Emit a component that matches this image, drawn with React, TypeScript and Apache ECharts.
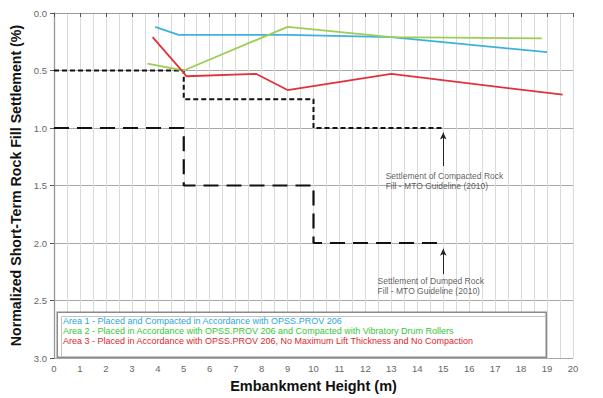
import React, { useEffect, useRef } from "react";
import * as echarts from "echarts";

// Measured settlement data [embankment height (m), settlement (%)]
const area1: [number, number][] = [[3.9, 0.12], [4.8, 0.19], [9.0, 0.19], [13.0, 0.21], [19.0, 0.34]];
const area2: [number, number][] = [[3.6, 0.44], [5.0, 0.5], [9.0, 0.12], [13.0, 0.21], [18.8, 0.22]];
const area3: [number, number][] = [[3.8, 0.21], [5.0, 0.52], [5.1, 0.55], [7.8, 0.53], [9.0, 0.67], [13.0, 0.53], [19.6, 0.71]];

// MTO Guideline (2010) step curves
const compactedGuide: [number, number][] = [[0, 0.5], [5, 0.5], [5, 0.75], [10, 0.75], [10, 1.0], [15, 1.0]];
const dumpedGuide: [number, number][] = [[0, 1.0], [5, 1.0], [5, 1.5], [10, 1.5], [10, 2.0], [15, 2.0]];

// Annotation arrows [from, to]
const compactedArrow: [number, number][] = [[15, 1.33], [15, 1.04]];
const dumpedArrow: [number, number][] = [[15, 2.27], [15, 2.05]];

// Annotation texts anchored at [x, y]
const annotations: [number, number, string][] = [
  [12.78, 1.37, "Settlement of Compacted Rock\nFill - MTO Guideline (2010)"],
  [12.47, 2.29, "Settlement of Dumped Rock\nFill - MTO Guideline (2010)"],
];

const legendNames = [
  "Area 1 - Placed and Compacted in Accordance with OPSS.PROV 206",
  "Area 2 - Placed in Accordance with OPSS.PROV 206 and Compacted with Vibratory Drum Rollers",
  "Area 3 - Placed in Accordance with OPSS.PROV 206, No Maximum Lift Thickness and No Compaction",
];
const lineColors = ["#3cb2da", "#9cce55", "#e0323a"];
const legendColors = ["#2aa6d6", "#35c835", "#e0262e"];

const xTicks = { min: 0, max: 20, interval: 1 };
const yTicks = { min: 0, max: 3, interval: 0.5 };

const FONT = "Liberation Sans, Arial, sans-serif";

export default function App() {
  const ref = useRef<HTMLDivElement>(null);
  useEffect(() => {
    if (!ref.current) return;
    const chart = echarts.init(ref.current, undefined, { renderer: "svg" });
    const arrowMark = (pts: [number, number][]) => ({
      silent: true,
      symbol: ["none", "arrow"],
      symbolSize: [5, 7],
      label: { show: false },
      lineStyle: { color: "#222", width: 1, type: "solid" },
      data: [[{ coord: pts[0] }, { coord: pts[1] }]],
    });
    chart.setOption({
      animation: false,
      textStyle: { fontFamily: FONT },
      grid: { left: 54, right: 30, top: 13, bottom: 39 },
      legend: {
        orient: "vertical",
        left: 58,
        top: 315.5,
        padding: 0,
        itemGap: 0,
        itemWidth: 0,
        itemHeight: 0,
        selectedMode: false,
        z: 10,
        icon: "rect",
        itemStyle: { opacity: 0 },
        data: legendNames.map((n, i) => ({
          name: n,
          textStyle: { color: legendColors[i], fontSize: 9, lineHeight: 10.3, fontFamily: FONT },
        })),
      },
      graphic: [
        {
          type: "rect",
          z: 5,
          left: 56.5,
          top: 311.5,
          shape: { width: 489, height: 45 },
          style: { fill: "#fff", stroke: "#8a8a8a", lineWidth: 1.5 },
        },
        {
          type: "rect",
          z: 6,
          left: 59,
          top: 314,
          shape: { width: 484, height: 40 },
          style: { fill: "none", stroke: "#c4c4c4", lineWidth: 1 },
        },
      ],
      xAxis: [
        {
          type: "value",
          ...xTicks,
          name: "Embankment Height (m)",
          nameLocation: "middle",
          nameGap: 20,
          nameTextStyle: { fontSize: 14.5, fontWeight: "bold", color: "#111", fontFamily: FONT, width: 400, overflow: "none" },
          axisLine: { show: true, lineStyle: { color: "#555", width: 1.2 } },
          axisTick: { show: true, length: 4, lineStyle: { color: "#555" } },
          axisLabel: { color: "#666", fontSize: 9.5, margin: 5, fontFamily: FONT },
          splitLine: { show: true, lineStyle: { color: "#dadada", width: 1 } },
          minorTick: { show: false, splitNumber: 2 },
          minorSplitLine: { show: true, lineStyle: { color: "#dadada", width: 1 } },
        },
        {
          type: "value",
          ...xTicks,
          position: "top",
          axisLine: { show: true, lineStyle: { color: "#999", width: 1 } },
          axisTick: { show: false },
          axisLabel: { show: false },
          splitLine: { show: false },
        },
      ],
      yAxis: [
        {
          type: "value",
          ...yTicks,
          inverse: true,
          name: "Normalized Short-Term Rock Fill Settlement (%)",
          nameLocation: "middle",
          nameGap: 30,
          nameTextStyle: { fontSize: 14.2, fontWeight: "bold", color: "#111", fontFamily: FONT, width: 500, overflow: "none" },
          axisLine: { show: true, lineStyle: { color: "#555", width: 1.2 } },
          axisTick: { show: true, length: 4, lineStyle: { color: "#555" } },
          axisLabel: { color: "#666", fontSize: 9.5, margin: 7, formatter: (v: number) => v.toFixed(1), fontFamily: FONT },
          splitLine: { show: true, lineStyle: { color: "#a8a8a8", width: 1 } },
        },
        {
          type: "value",
          ...yTicks,
          inverse: true,
          position: "right",
          axisLine: { show: true, lineStyle: { color: "#999", width: 1 } },
          axisTick: { show: false },
          axisLabel: { show: false },
          splitLine: { show: false },
        },
      ],
      series: [
        {
          name: "compacted",
          type: "line",
          data: compactedGuide,
          symbol: "none",
          z: 3,
          lineStyle: { color: "#111", width: 2, type: [5, 3] },
          markLine: arrowMark(compactedArrow),
        },
        {
          name: "dumped",
          type: "line",
          data: dumpedGuide,
          symbol: "none",
          z: 3,
          lineStyle: { color: "#111", width: 2.2, type: [15, 8] },
          markLine: arrowMark(dumpedArrow),
        },
        ...[area1, area2, area3].map((d, i) => ({
          name: legendNames[i],
          type: "line",
          data: d,
          symbol: "none",
          z: 4,
          color: lineColors[i],
          lineStyle: { color: lineColors[i], width: 1.8 },
        })),
        {
          name: "annotations",
          type: "scatter",
          silent: true,
          symbolSize: 0,
          data: annotations.map((a) => ({ value: [a[0], a[1]], text: a[2] })),
          label: {
            show: true,
            position: [0, 0],
            align: "left",
            verticalAlign: "top",
            color: "#333",
            fontSize: 8.5,
            lineHeight: 10,
            fontFamily: FONT,
            formatter: (p: any) => p.data.text,
          },
        },
      ],
    });
    return () => chart.dispose();
  }, []);
  return (
    <div
      ref={ref}
      style={{ position: "fixed", left: 0, top: 0, width: 603, height: 398, background: "#fff" }}
    />
  );
}
